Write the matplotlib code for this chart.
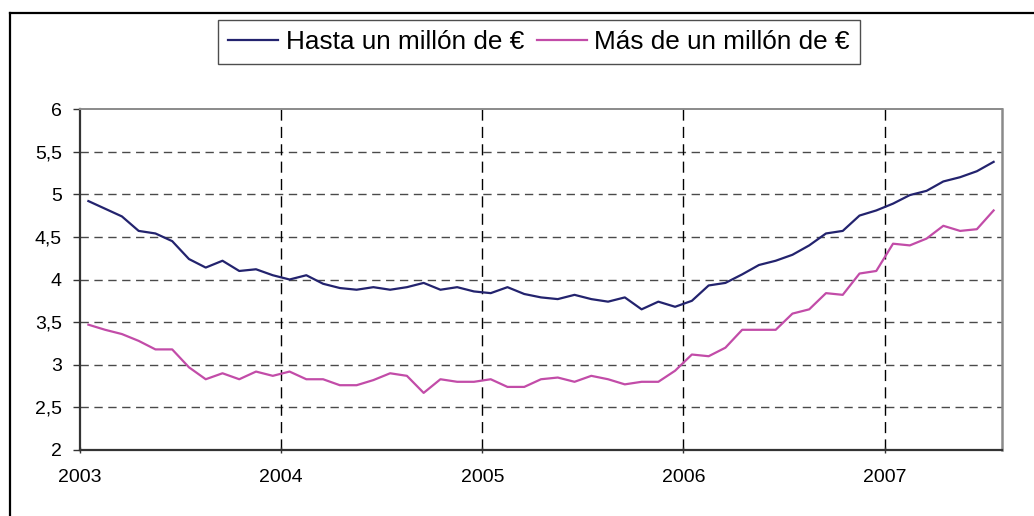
import matplotlib
matplotlib.use('Agg')
import matplotlib.pyplot as plt
from matplotlib.lines import Line2D
import numpy as np

plt.rcParams['font.family'] = ['Liberation Sans', 'DejaVu Sans']

# monthly data, Jan 2003 .. Jul 2007
hasta = [4.92, 4.83, 4.74, 4.57, 4.54, 4.45, 4.24, 4.14, 4.22, 4.10, 4.12, 4.05,
         4.00, 4.05, 3.95, 3.90, 3.88, 3.91, 3.88, 3.91, 3.96, 3.88, 3.91, 3.86,
         3.84, 3.91, 3.83, 3.79, 3.77, 3.82, 3.77, 3.74, 3.79, 3.65, 3.74, 3.68,
         3.75, 3.93, 3.96, 4.06, 4.17, 4.22, 4.29, 4.40, 4.54, 4.57, 4.75, 4.81,
         4.89, 4.99, 5.04, 5.15, 5.20, 5.27, 5.38]
mas = [3.47, 3.41, 3.36, 3.28, 3.18, 3.18, 2.97, 2.83, 2.90, 2.83, 2.92, 2.87,
       2.92, 2.83, 2.83, 2.76, 2.76, 2.82, 2.90, 2.87, 2.67, 2.83, 2.80, 2.80,
       2.83, 2.74, 2.74, 2.83, 2.85, 2.80, 2.87, 2.83, 2.77, 2.80, 2.80, 2.93,
       3.12, 3.10, 3.20, 3.41, 3.41, 3.41, 3.60, 3.65, 3.84, 3.82, 4.07, 4.10,
       4.42, 4.40, 4.48, 4.63, 4.57, 4.59, 4.81]
years = ['2003', '2004', '2005', '2006', '2007']
yticks = [2, 2.5, 3, 3.5, 4, 4.5, 5, 5.5, 6]

W, H = 1034, 516
fig = plt.figure(figsize=(W / 100, H / 100), dpi=100)
ax = fig.add_axes([80 / W, 1 - 450 / H, 922 / W, 341 / H])

x = np.arange(len(hasta)) + 0.5
ax.plot(x, hasta, color='#23236e', lw=1.6, label='Hasta un millón de €', zorder=3)
ax.plot(x, mas, color='#c24ca8', lw=1.6, label='Más de un millón de €', zorder=3)

ax.set_xlim(0, 55)
ax.set_ylim(2, 6)

# gridlines
for yv in yticks[1:-1]:
    ax.axhline(yv, color='#4a4a4a', lw=1.0, dashes=(6, 4), zorder=1)
for xv in [12, 24, 36, 48]:
    ax.axvline(xv, color='black', lw=1.0, dashes=(8, 4.5), zorder=1)

ax.set_xticks([0, 12, 24, 36, 48])
ax.set_xticklabels(years)
ax.set_yticks(yticks)
ax.set_yticklabels([('%g' % v).replace('.', ',') for v in yticks])
ax.tick_params(axis='y', length=5, width=1, color='#333333', pad=8, labelsize=14)
ax.tick_params(axis='x', length=4, width=1, color='#333333', pad=12, labelsize=14,
               direction='inout')

ax.spines['left'].set_color('#333333')
ax.spines['left'].set_linewidth(1.6)
ax.spines['bottom'].set_color('#333333')
ax.spines['bottom'].set_linewidth(1.6)
ax.spines['top'].set_color('#8a8a8a')
ax.spines['top'].set_linewidth(1.4)
ax.spines['right'].set_color('#8a8a8a')
ax.spines['right'].set_linewidth(1.8)

leg = ax.legend(loc='center', bbox_to_anchor=(539 / W, 1 - 42 / H),
                bbox_transform=fig.transFigure, ncol=2, fontsize=18.8,
                frameon=True, fancybox=False, handlelength=1.9,
                handletextpad=0.3, columnspacing=0.5, borderpad=0.38)
leg.get_frame().set_edgecolor('#222222')
leg.get_frame().set_linewidth(1.0)

# outer frame of the chart
fx = 10 / W
fy = 1 - 13 / H
fig.add_artist(Line2D([fx, fx], [0, fy], transform=fig.transFigure, color='black', lw=1.6))
fig.add_artist(Line2D([fx, 1], [fy, fy], transform=fig.transFigure, color='black', lw=1.6))

fig.savefig('out.png', dpi=100)
